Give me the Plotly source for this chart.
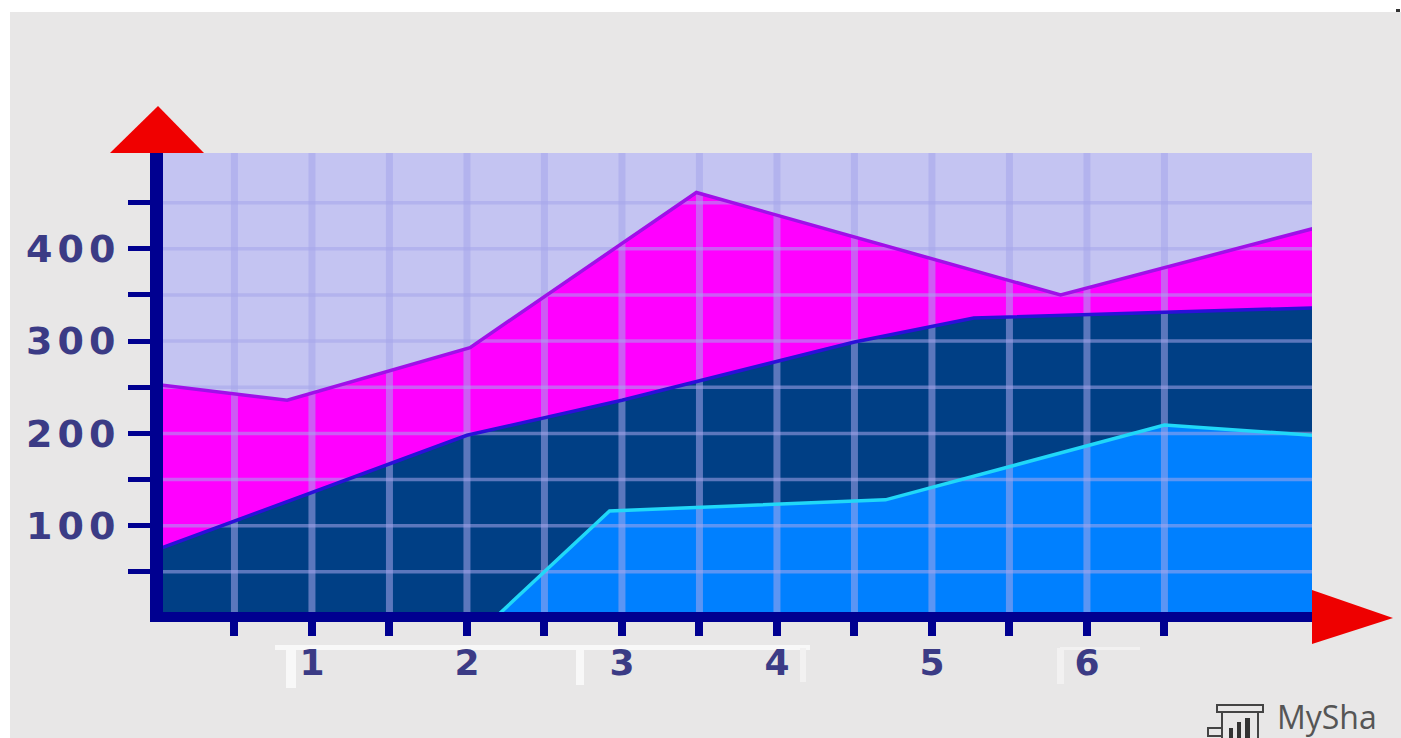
import plotly.graph_objects as go

W, H = 1401, 738
L, R, T, B = 163, 1312, 153, 612  # plot-area edges in the picture
# Data
magenta_x = [0, 0.84, 2.02, 3.48, 5.83, 7.46]
magenta_y = [253, 236, 293, 461, 350, 422]
navy_x = [0, 2.0, 3.0, 3.48, 4.5, 5.27, 7.46]
navy_y = [74, 198, 236, 256, 299, 325, 336]
cyan_x = [2.18, 2.92, 4.7, 6.5, 7.46]
cyan_y = [0, 116, 128, 209, 198]
x_ticks = [0.5, 1, 1.5, 2, 2.5, 3, 3.5, 4, 4.5, 5, 5.5, 6, 6.5]
x_labels = ["", "1", "", "2", "", "3", "", "4", "", "5", "", "6", ""]
y_ticks = [50, 100, 150, 200, 250, 300, 350, 400, 450]
y_labels = ["", "100", "", "200", "", "300", "", "400", ""]
x_range = [0.039, 7.452]
y_range = [6.5, 503.8]

NAVY_AXIS = "#000090"
TEXT = "#3b3b85"
GRID = "rgba(165,165,235,0.55)"

fig = go.Figure()
for xs, ys, col in [(magenta_x, magenta_y, "#ff00ff"),
                    (navy_x, navy_y, "#003f85"),
                    (cyan_x, cyan_y, "#0080ff")]:
    fig.add_trace(go.Scatter(x=xs, y=ys, mode="none", fill="tozeroy", fillcolor=col,
                             showlegend=False, hoverinfo="skip"))

vx, vy = [], []
for v in x_ticks:
    vx += [v, v, None]
    vy += [y_range[0], y_range[1], None]
hx, hy = [], []
for v in y_ticks:
    hx += [x_range[0], x_range[1], None]
    hy += [v, v, None]
fig.add_trace(go.Scatter(x=vx, y=vy, mode="lines", line=dict(color=GRID, width=7),
                         showlegend=False, hoverinfo="skip"))
fig.add_trace(go.Scatter(x=hx, y=hy, mode="lines", line=dict(color=GRID, width=3.5),
                         showlegend=False, hoverinfo="skip"))

for xs, ys, col, w in [(magenta_x, magenta_y, "#a010e8", 3.5),
                       (navy_x, navy_y, "#2a10d8", 3.5),
                       (cyan_x, cyan_y, "#20d8f8", 3.5)]:
    fig.add_trace(go.Scatter(x=xs, y=ys, mode="lines", line=dict(color=col, width=w),
                             showlegend=False, hoverinfo="skip"))


def px(x):
    return (x - L) / (R - L)


def py(y):
    return (B - y) / (B - T)


def poly(points, fill, layer="above"):
    d = "M" + " L".join(f"{px(a):.5f},{py(b):.5f}" for a, b in points) + " Z"
    return dict(type="path", xref="paper", yref="paper", path=d, fillcolor=fill,
                line=dict(color="rgba(0,0,0,0)", width=0), layer=layer)


def box(x0, y0, x1, y1, fill, layer="below"):
    return dict(type="rect", xref="paper", yref="paper", x0=px(x0), x1=px(x1),
                y0=py(y0), y1=py(y1), fillcolor=fill, line=dict(width=0), layer=layer)


def outline(x0, y0, x1, y1):
    return dict(type="rect", xref="paper", yref="paper", x0=px(x0), x1=px(x1), y0=py(y0), y1=py(y1),
                line=dict(color="#444444", width=2), fillcolor="rgba(0,0,0,0)")


WHITE = "#ffffff"
SOFT = "#f2f1f1"
shapes = [
    box(0, 0, 10, H, WHITE), box(0, 0, W, 12, WHITE),
    box(275, 645, 810, 650, "#f8f8f8"), box(286, 648, 296, 688, "#f8f8f8"),
    box(576, 648, 584, 685, "#f8f8f8"), box(800, 648, 806, 682, SOFT),
    box(1060, 647, 1140, 650, SOFT), box(1057, 648, 1064, 684, SOFT),
    poly([(110, 153), (158, 106), (204, 153)], "#f00000"),
    poly([(1312, 590), (1393, 618), (1312, 644)], "#ee0000"),
    box(1396, 9, 1400, 12, "#333333", "above"),
    # watermark icon
    outline(1217, 705, 1263, 712), outline(1222, 712, 1258, 741), outline(1208, 728, 1222, 736),
    box(1229, 728, 1233, 738, "#333333", "above"), box(1237, 722, 1241, 738, "#333333", "above"),
    box(1245, 718, 1250, 738, "#333333", "above"),
]

fig.update_layout(
    width=W, height=H, autosize=False,
    margin=dict(l=L, r=W - R, t=T, b=H - B, autoexpand=False),
    paper_bgcolor="#e8e7e7", plot_bgcolor="#c4c4f2",
    showlegend=False, shapes=shapes,
    font=dict(family="DejaVu Sans", color=TEXT),
    annotations=[dict(text="MySha", xref="paper", yref="paper", x=px(1275), y=py(716),
                      xanchor="left", yanchor="middle", showarrow=False,
                      font=dict(family="Open Sans", size=32, color="#555555"))],
    xaxis=dict(range=x_range, tickmode="array", tickvals=x_ticks, ticktext=x_labels,
               showgrid=False, zeroline=False, showline=True, linecolor=NAVY_AXIS, linewidth=10,
               ticks="outside", ticklen=14, tickwidth=8, tickcolor=NAVY_AXIS,
               ticklabelstandoff=-4, tickangle=0,
               tickfont=dict(family="DejaVu Sans", size=36, weight="bold", color=TEXT)),
    yaxis=dict(range=y_range, tickmode="array", tickvals=y_ticks, ticktext=y_labels,
               showgrid=False, zeroline=False, showline=True, linecolor=NAVY_AXIS, linewidth=13,
               ticks="outside", ticklen=22, tickwidth=5, tickcolor=NAVY_AXIS,
               ticklabelstandoff=0,
               tickfont=dict(family="DejaVu Sans", size=38, weight="bold", color=TEXT)),
)
fig.write_html("out.html", config={"displayModeBar": False},
               post_script="document.body.style.margin='0';document.body.style.overflow='hidden';"
                           "document.querySelectorAll('.ytick text').forEach(function(t){t.style.letterSpacing='5px';});")
